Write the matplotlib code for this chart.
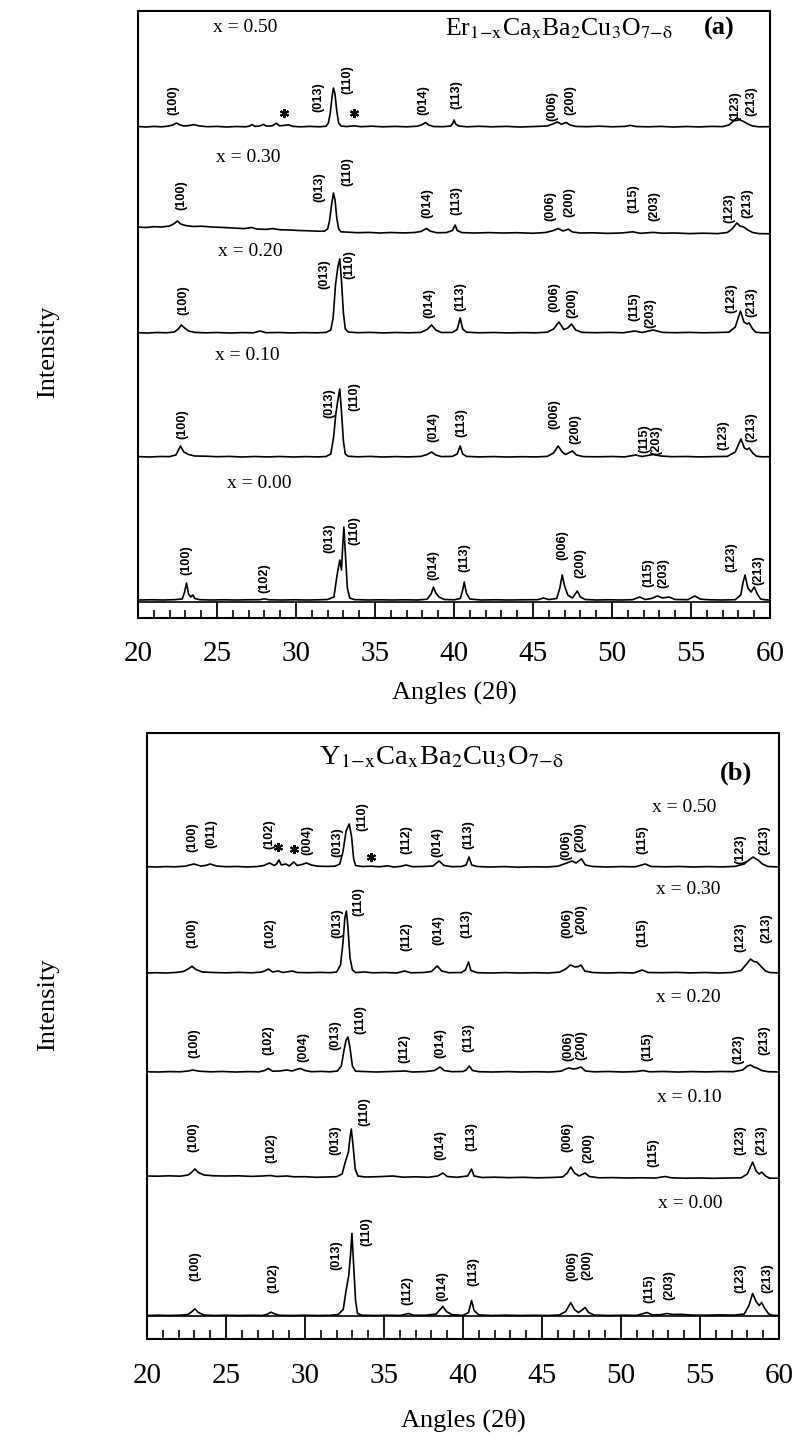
import matplotlib
matplotlib.use("Agg")
import matplotlib.pyplot as plt
from matplotlib.ticker import MultipleLocator

plt.rcParams["font.family"] = ["Liberation Serif", "DejaVu Serif"]
plt.rcParams["mathtext.fontset"] = "stix"

# ---- (a) Er1-xCaxBa2Cu3O7-d : (2theta, intensity above baseline) ----
A050 = [(20.0, 0.5), (20.5, 0.0), (21.0, 0.6), (21.5, 0.2), (21.9, 0.8), (22.2, 2.0), (22.43, 4.0), (22.65, 2.2),
        (22.9, 1.0), (23.2, 1.4), (23.54, 2.4), (23.9, 1.0), (24.4, 0.3), (25.0, 0.6), (25.6, 0.0), (26.2, 0.5),
        (26.8, 0.2), (27.05, 0.9), (27.21, 2.4), (27.4, 0.6), (27.7, 1.0), (27.94, 2.6), (28.15, 0.8), (28.5, 1.2),
        (28.76, 3.8), (28.95, 1.2), (29.25, 1.6), (29.53, 2.2), (29.8, 0.6), (30.3, 0.2), (30.9, 0.6), (31.5, 0.2),
        (31.9, 0.8), (32.05, 4.0), (32.17, 14.0), (32.28, 30.0), (32.37, 39.0), (32.47, 33.0), (32.58, 16.0),
        (32.7, 4.0), (32.85, 1.0), (33.2, 0.4), (33.67, 1.2), (34.1, 0.3), (34.8, 0.8), (35.5, 0.2), (36.3, 0.6),
        (37.0, 0.2), (37.7, 0.8), (38.0, 2.5), (38.2, 4.5), (38.4, 2.0), (38.7, 0.5), (39.3, 0.3), (39.8, 1.0),
        (39.93, 4.0), (40.0, 7.0), (40.1, 3.0), (40.3, 1.0), (40.8, 0.2), (41.6, 0.7), (42.4, 0.2), (43.3, 0.6),
        (44.2, 0.0), (45.1, 0.5), (45.9, 1.0), (46.25, 3.0), (46.54, 5.0), (46.8, 2.8), (47.1, 4.5), (47.35, 2.0),
        (47.7, 0.6), (48.4, 0.3), (49.2, 0.8), (50.0, 0.2), (50.8, 0.6), (51.17, 1.6), (51.5, 0.5), (52.3, 0.2),
        (53.1, 0.6), (53.9, 0.0), (54.7, 0.5), (55.5, 0.1), (56.3, 0.6), (57.0, 0.4), (57.4, 2.0), (57.65, 5.5),
        (57.9, 9.0), (58.1, 7.0), (58.33, 5.5), (58.6, 3.0), (58.9, 1.0), (59.3, 0.2), (60.0, 0.3)]
A030 = [(20.0, 6.0), (20.5, 5.5), (21.0, 6.3), (21.5, 6.0), (22.0, 7.0), (22.3, 9.5), (22.5, 12.0), (22.7, 9.0),
        (23.0, 7.5), (23.5, 6.5), (24.0, 6.8), (24.7, 6.0), (25.3, 5.6), (26.0, 5.0), (26.7, 4.4), (27.2, 5.5),
        (27.5, 4.0), (28.1, 3.6), (28.5, 4.4), (29.0, 3.2), (29.6, 3.0), (30.2, 2.5), (30.8, 2.2), (31.4, 1.8),
        (31.8, 1.8), (32.0, 4.0), (32.12, 12.0), (32.25, 28.0), (32.37, 40.0), (32.47, 33.0), (32.58, 15.0),
        (32.7, 4.0), (32.85, 1.2), (33.3, 0.8), (33.9, 0.3), (34.6, 0.6), (35.3, 0.0), (36.0, 0.5), (36.8, 0.1),
        (37.5, 0.5), (37.9, 1.5), (38.26, 4.5), (38.5, 1.8), (38.9, 0.3), (39.5, 0.4), (39.9, 2.5), (40.07, 8.0),
        (40.2, 2.5), (40.5, 0.4), (41.3, 0.0), (42.2, 0.4), (43.1, 0.0), (44.0, 0.3), (45.0, -0.3), (45.8, 0.5),
        (46.3, 2.5), (46.59, 4.5), (46.9, 2.0), (47.23, 3.8), (47.5, 1.0), (48.0, 0.0), (48.8, 0.2), (49.7, -0.4),
        (50.6, 0.0), (51.3, 1.2), (51.8, -0.3), (52.6, 0.6), (53.2, -0.2), (54.0, 0.0), (54.9, -0.6), (55.8, -0.2),
        (56.7, -0.6), (57.3, 0.5), (57.6, 4.0), (57.9, 10.0), (58.1, 7.0), (58.33, 6.0), (58.6, 3.0), (58.9, 0.5),
        (59.3, -0.6), (60.0, -0.8)]
A020 = [(20.0, 0.3), (20.6, 0.0), (21.2, 0.5), (21.8, 0.2), (22.3, 1.0), (22.55, 4.0), (22.74, 8.0), (22.95, 5.0),
        (23.2, 2.0), (23.6, 0.6), (24.3, 0.2), (25.0, 0.5), (25.8, 0.0), (26.6, 0.4), (27.3, 0.2), (27.73, 2.0),
        (28.1, 0.3), (28.9, 0.5), (29.7, 0.1), (30.5, 0.4), (31.3, 0.2), (31.9, 0.6), (32.2, 3.0), (32.35, 15.0),
        (32.5, 48.0), (32.65, 66.0), (32.77, 74.0), (32.88, 52.0), (33.0, 20.0), (33.12, 4.0), (33.3, 1.0),
        (33.9, 0.3), (34.7, 0.6), (35.5, 0.1), (36.3, 0.5), (37.1, 0.2), (37.9, 0.6), (38.3, 3.5), (38.58, 8.0),
        (38.85, 3.0), (39.2, 0.5), (39.9, 0.6), (40.2, 3.5), (40.39, 15.0), (40.55, 4.0), (40.8, 0.8), (41.6, 0.2),
        (42.5, 0.5), (43.4, 0.1), (44.3, 0.4), (45.2, 0.2), (45.9, 0.8), (46.3, 4.0), (46.64, 11.0), (46.95, 3.5),
        (47.2, 5.0), (47.44, 9.0), (47.7, 3.0), (48.1, 0.6), (49.0, 0.3), (49.9, 0.6), (50.7, 0.2), (51.44, 2.0),
        (51.9, 0.5), (52.6, 3.0), (53.2, 0.6), (54.0, 0.3), (54.9, 0.6), (55.8, 0.2), (56.7, 0.5), (57.4, 0.8),
        (57.8, 6.0), (58.13, 22.0), (58.35, 11.0), (58.55, 9.0), (58.68, 10.0), (58.9, 4.0), (59.1, 0.8),
        (59.5, 0.2), (60.0, 0.3)]
A010 = [(20.0, 0.4), (20.7, 0.0), (21.4, 0.5), (22.0, 0.4), (22.4, 2.0), (22.69, 11.0), (22.9, 5.0), (23.2, 2.5),
        (23.6, 1.0), (24.3, 0.8), (25.0, 0.3), (25.8, 0.6), (26.6, 0.0), (27.4, 0.5), (28.2, 0.1), (29.0, 0.5),
        (29.8, 0.0), (30.6, 0.4), (31.4, 0.1), (31.9, 0.5), (32.2, 3.0), (32.38, 20.0), (32.52, 43.0), (32.66, 58.0),
        (32.77, 68.0), (32.88, 45.0), (33.0, 16.0), (33.12, 3.0), (33.3, 0.8), (33.9, 0.2), (34.7, 0.6), (35.5, 0.0),
        (36.3, 0.4), (37.1, 0.1), (37.9, 0.6), (38.3, 2.5), (38.58, 5.0), (38.85, 2.0), (39.2, 0.4), (39.9, 0.6),
        (40.2, 3.0), (40.39, 11.0), (40.55, 3.0), (40.8, 0.6), (41.6, 0.1), (42.5, 0.4), (43.4, 0.0), (44.3, 0.3),
        (45.2, 0.1), (45.9, 0.6), (46.3, 4.0), (46.59, 11.0), (46.85, 5.0), (47.05, 2.5), (47.25, 4.0), (47.49, 6.0),
        (47.75, 2.0), (48.2, 0.4), (49.1, 0.2), (50.0, 0.5), (50.8, 0.1), (51.5, 2.0), (51.9, 0.5), (52.6, 2.5),
        (53.1, 1.0), (53.8, 0.3), (54.7, 0.5), (55.6, 0.1), (56.5, 0.4), (57.3, 0.6), (57.8, 5.0), (58.16, 18.0),
        (58.38, 9.0), (58.55, 7.5), (58.68, 9.0), (58.9, 4.0), (59.15, 0.8), (59.5, 0.2), (60.0, 0.3)]
A000 = [(20.0, 0.0), (20.8, 0.2), (21.6, 0.0), (22.3, 0.3), (22.8, 1.0), (22.95, 8.0), (23.07, 17.0), (23.2, 6.0),
        (23.35, 3.0), (23.47, 5.0), (23.6, 1.5), (23.9, 0.3), (24.6, 0.0), (25.4, 0.2), (26.2, 0.0), (27.0, 0.2),
        (27.7, 0.3), (27.99, 1.2), (28.3, 0.2), (29.1, 0.0), (29.9, 0.2), (30.7, 0.0), (31.5, 0.2), (32.0, 0.5),
        (32.4, 3.0), (32.6, 25.0), (32.77, 40.0), (32.88, 30.0), (32.96, 55.0), (33.03, 73.0), (33.13, 45.0),
        (33.25, 12.0), (33.4, 2.0), (33.7, 0.4), (34.5, 0.0), (35.3, 0.2), (36.1, 0.0), (36.9, 0.2), (37.7, 0.0),
        (38.3, 0.8), (38.55, 6.0), (38.7, 13.0), (38.85, 7.0), (39.05, 3.0), (39.4, 0.5), (40.0, 0.2), (40.4, 1.5),
        (40.55, 10.0), (40.65, 18.0), (40.78, 7.0), (41.0, 1.0), (41.7, 0.0), (42.6, 0.2), (43.5, 0.0), (44.4, 0.2),
        (45.3, 0.3), (45.68, 2.0), (46.0, 0.4), (46.5, 1.5), (46.7, 12.0), (46.85, 25.0), (47.0, 14.0), (47.2, 5.0),
        (47.5, 2.0), (47.8, 9.0), (48.0, 3.0), (48.3, 0.5), (49.0, 0.0), (49.8, 0.2), (50.6, 0.0), (51.3, 0.3),
        (51.75, 3.0), (52.1, 0.5), (52.5, 1.5), (52.87, 4.0), (53.2, 2.0), (53.6, 3.0), (54.0, 0.5), (54.8, 0.3),
        (55.24, 4.0), (55.6, 0.8), (56.2, 0.2), (57.0, 0.0), (57.8, 0.3), (58.15, 5.0), (58.3, 18.0), (58.42, 25.0),
        (58.6, 12.0), (58.8, 8.0), (59.0, 13.0), (59.2, 6.0), (59.4, 1.0), (59.7, 0.2), (60.0, 0.0)]

# ---- (b) Y1-xCaxBa2Cu3O7-d ----
B050 = [(20.0, 0.3), (20.6, 0.0), (21.2, 0.4), (21.8, 0.2), (22.4, 0.8), (22.97, 3.0), (23.4, 1.0), (23.7, 1.5),
        (24.0, 3.0), (24.4, 1.0), (25.0, 0.3), (25.7, 0.5), (26.4, 0.0), (27.0, 0.5), (27.4, 1.5), (27.76, 4.0),
        (28.05, 1.5), (28.2, 3.0), (28.35, 7.0), (28.5, 2.0), (28.79, 3.0), (29.0, 1.0), (29.3, 5.0), (29.5, 1.5),
        (29.8, 2.5), (30.09, 4.0), (30.4, 2.0), (30.8, 0.8), (31.4, 0.6), (31.9, 0.8), (32.2, 3.0), (32.4, 15.0),
        (32.6, 36.0), (32.8, 43.0), (32.95, 30.0), (33.08, 8.0), (33.2, 1.5), (33.6, 0.5), (34.2, 0.8), (34.7, 0.2),
        (35.25, 1.2), (35.6, 0.0), (36.0, 0.5), (36.4, 2.0), (36.8, 0.3), (37.5, 0.5), (38.1, 1.0), (38.48, 6.0),
        (38.8, 1.5), (39.3, 0.3), (39.9, 0.5), (40.2, 2.0), (40.38, 10.0), (40.55, 2.0), (40.9, 0.5), (41.7, 0.0),
        (42.6, 0.4), (43.5, -0.2), (44.4, 0.2), (45.3, 0.0), (46.0, 0.8), (46.4, 3.0), (46.9, 6.0), (47.15, 4.0),
        (47.5, 8.0), (47.75, 2.0), (48.2, 0.5), (49.1, 0.0), (50.0, 0.4), (50.9, 0.2), (51.54, 3.0), (51.9, 0.5),
        (52.8, 0.2), (53.7, 0.5), (54.6, 0.0), (55.5, 0.4), (56.4, 0.1), (57.2, 0.6), (57.8, 3.0), (58.1, 7.0),
        (58.36, 10.0), (58.55, 8.0), (58.67, 7.0), (58.95, 3.0), (59.3, 0.5), (60.0, 0.0)]
B030 = [(20.0, 0.0), (20.6, 0.3), (21.2, 0.0), (21.8, 0.5), (22.3, 1.5), (22.6, 4.0), (22.85, 6.7), (23.1, 3.5),
        (23.5, 1.0), (24.2, 0.5), (25.0, 0.2), (25.8, 0.6), (26.6, 0.2), (27.2, 0.8), (27.45, 2.0), (27.68, 4.0),
        (27.95, 1.0), (28.3, 2.0), (28.6, 0.5), (29.2, 2.0), (29.5, 0.5), (30.2, 0.3), (31.0, 0.6), (31.6, 0.3),
        (32.0, 1.0), (32.25, 8.0), (32.4, 30.0), (32.52, 55.0), (32.62, 62.0), (32.72, 45.0), (32.85, 15.0),
        (33.0, 3.0), (33.2, 0.5), (33.76, 1.0), (34.3, 0.2), (35.1, 0.5), (35.8, 0.0), (36.3, 2.0), (36.7, 0.2),
        (37.5, 0.5), (38.0, 1.5), (38.37, 7.0), (38.65, 2.0), (39.1, 0.3), (39.9, 0.5), (40.15, 3.0), (40.35, 11.0),
        (40.5, 2.5), (40.9, 0.3), (41.8, 0.0), (42.7, 0.4), (43.6, 0.0), (44.5, 0.3), (45.4, 0.0), (46.1, 0.8),
        (46.5, 4.0), (46.8, 8.0), (47.1, 6.0), (47.3, 6.5), (47.47, 8.0), (47.7, 2.0), (48.2, 0.5), (49.1, 0.0),
        (50.0, 0.4), (50.8, 0.0), (51.35, 3.0), (51.7, 0.5), (52.6, 0.3), (53.5, 0.6), (54.4, 0.1), (55.3, 0.5),
        (56.2, 0.0), (57.0, 0.5), (57.6, 2.5), (57.95, 9.0), (58.2, 14.0), (58.4, 11.5), (58.6, 11.0), (58.9, 6.0),
        (59.15, 2.0), (59.4, 0.5), (60.0, 0.0)]
B020 = [(20.0, 0.2), (20.7, 0.0), (21.4, 0.4), (22.1, 0.2), (22.6, 1.0), (22.9, 2.0), (23.3, 0.8), (24.0, 0.2),
        (24.8, 0.5), (25.6, 0.0), (26.4, 0.4), (27.1, 0.2), (27.45, 1.5), (27.68, 3.5), (27.95, 0.8), (28.4, 1.0),
        (28.84, 2.0), (29.2, 1.0), (29.45, 2.5), (29.7, 3.5), (30.0, 1.5), (30.4, 0.3), (31.0, 0.6), (31.6, 0.2),
        (32.05, 1.0), (32.3, 6.0), (32.45, 20.0), (32.6, 32.0), (32.72, 35.0), (32.85, 24.0), (33.0, 6.0),
        (33.2, 0.8), (33.7, 0.5), (34.5, 0.0), (35.3, 0.4), (36.35, 1.0), (36.8, 0.0), (37.6, 0.4), (38.2, 1.5),
        (38.55, 5.0), (38.8, 1.5), (39.3, 0.3), (40.0, 0.5), (40.2, 2.0), (40.4, 6.0), (40.6, 1.5), (41.0, 0.3),
        (41.9, 0.0), (42.8, 0.4), (43.7, 0.0), (44.6, 0.3), (45.5, 0.0), (46.2, 0.8), (46.5, 3.0), (46.7, 4.0),
        (47.0, 3.0), (47.2, 3.5), (47.47, 5.0), (47.75, 1.0), (48.3, 0.2), (49.2, 0.5), (50.1, 0.0), (51.0, 0.5),
        (51.4, 1.5), (51.8, 0.2), (52.7, 0.5), (53.6, 0.0), (54.5, 0.4), (55.4, 0.1), (56.3, 0.5), (57.1, 0.3),
        (57.7, 2.0), (58.0, 6.0), (58.2, 7.0), (58.4, 5.0), (58.6, 4.0), (58.9, 1.5), (59.3, 0.3), (60.0, 0.0)]
B010 = [(20.0, 1.0), (20.7, 0.8), (21.4, 1.2), (22.1, 0.8), (22.6, 2.0), (22.85, 5.0), (23.03, 8.0), (23.25, 4.5),
        (23.6, 2.0), (24.2, 1.2), (25.0, 1.0), (25.8, 1.2), (26.6, 0.6), (27.3, 1.0), (27.8, 1.5), (28.2, 0.5),
        (28.85, 1.0), (29.3, 0.2), (30.0, 0.3), (30.7, -0.3), (31.4, 0.0), (32.0, 0.3), (32.35, 3.0), (32.55, 15.0),
        (32.75, 25.0), (32.85, 40.0), (32.93, 48.0), (33.05, 30.0), (33.18, 8.0), (33.35, 1.0), (33.8, 0.0),
        (34.6, 0.3), (35.57, 1.0), (36.2, -0.2), (37.0, 0.2), (37.8, -0.3), (38.4, 1.0), (38.73, 4.0), (39.0, 0.5),
        (39.6, -0.3), (40.3, 1.0), (40.54, 8.0), (40.7, 1.0), (41.2, -0.5), (42.0, -0.2), (42.9, -0.6), (43.8, -0.3),
        (44.7, -0.8), (45.6, -0.5), (46.3, 0.0), (46.6, 4.0), (46.82, 10.0), (47.05, 4.0), (47.35, 1.0), (47.73, 4.0),
        (48.0, 0.5), (48.6, -0.8), (49.5, -0.6), (50.4, -1.0), (51.3, -0.8), (52.2, -1.0), (52.78, 0.5), (53.2, -0.8),
        (54.1, -1.2), (55.0, -1.0), (55.9, -1.3), (56.8, -1.0), (57.6, -0.8), (58.0, 3.0), (58.33, 15.0), (58.55, 6.0),
        (58.75, 3.0), (58.9, 5.0), (59.15, 1.0), (59.4, -1.2), (60.0, -1.2)]
B000 = [(20.0, 0.0), (20.7, 0.3), (21.4, 0.0), (22.1, 0.3), (22.6, 1.0), (22.85, 4.0), (23.03, 6.7), (23.25, 3.0),
        (23.6, 0.5), (24.3, 0.0), (25.0, 0.3), (25.8, 0.0), (26.6, 0.2), (27.3, 0.0), (27.6, 1.2), (27.85, 3.3),
        (28.1, 1.5), (28.4, 0.2), (29.2, 0.0), (30.0, 0.3), (30.8, 0.0), (31.6, 0.2), (32.1, 1.0), (32.42, 6.0),
        (32.6, 25.0), (32.77, 40.0), (32.88, 60.0), (32.97, 82.0), (33.08, 50.0), (33.2, 15.0), (33.32, 2.0),
        (33.6, 0.3), (34.4, 0.0), (35.2, 0.3), (36.0, 0.0), (36.55, 2.0), (36.9, 0.2), (37.7, 0.3), (38.3, 1.5),
        (38.55, 6.0), (38.73, 9.0), (38.95, 4.0), (39.3, 0.8), (40.0, 0.2), (40.35, 3.0), (40.54, 15.0), (40.7, 5.0),
        (41.0, 0.6), (41.8, 0.0), (42.7, 0.3), (43.6, 0.0), (44.5, 0.2), (45.4, 0.0), (46.1, 0.5), (46.5, 4.0),
        (46.82, 13.0), (47.05, 6.0), (47.3, 3.0), (47.5, 5.0), (47.73, 8.0), (47.95, 3.0), (48.3, 0.5), (49.2, 0.0),
        (50.1, 0.3), (51.0, 0.1), (51.65, 3.0), (52.0, 0.5), (52.5, 0.8), (52.9, 2.0), (53.3, 1.0), (53.8, 1.2),
        (54.5, 0.4), (55.4, 0.3), (56.3, 0.6), (57.2, 0.4), (57.8, 1.5), (58.1, 10.0), (58.33, 22.0), (58.55, 14.0),
        (58.75, 10.0), (58.9, 13.0), (59.1, 7.0), (59.35, 1.5), (59.6, 0.2), (60.0, 0.0)]

COMP = ["x = 0.50", "x = 0.30", "x = 0.20", "x = 0.10", "x = 0.00"]

# reflection labels: (hkl, 2theta, height above the trace baseline)
HKL_A050 = [("(100)", 22.25, 27), ("(013)", 31.42, 30), ("(110)", 33.23, 47), ("(014)", 38.07, 27),
            ("(113)", 40.13, 32), ("(006)", 46.2, 21), ("(200)", 47.37, 27), ("(123)", 57.82, 21),
            ("(213)", 58.85, 26)]
HKL_A030 = [("(100)", 22.73, 38), ("(013)", 31.49, 46), ("(110)", 33.23, 61), ("(014)", 38.32, 30),
            ("(113)", 40.13, 32), ("(006)", 46.07, 27), ("(200)", 47.31, 31), ("(115)", 51.36, 34),
            ("(203)", 52.66, 27), ("(123)", 57.44, 25), ("(213)", 58.58, 30)]
HKL_A020 = [("(100)", 22.88, 33), ("(013)", 31.8, 59), ("(110)", 33.36, 68), ("(014)", 38.45, 30),
            ("(113)", 40.39, 36), ("(006)", 46.33, 36), ("(200)", 47.49, 30), ("(115)", 51.44, 26),
            ("(203)", 52.4, 20), ("(123)", 57.56, 35), ("(213)", 58.85, 31)]
HKL_A010 = [("(100)", 22.82, 33), ("(013)", 32.12, 54), ("(110)", 33.72, 60), ("(014)", 38.7, 30),
            ("(113)", 40.44, 34), ("(006)", 46.38, 43), ("(200)", 47.67, 28), ("(115)", 52.06, 18),
            ("(203)", 52.78, 17), ("(123)", 57.04, 22), ("(213)", 58.85, 30)]
HKL_A000 = [("(100)", 23.07, 40), ("(102)", 27.97, 22), ("(013)", 32.12, 62), ("(110)", 33.67, 69),
            ("(014)", 38.7, 35), ("(113)", 40.65, 42), ("(006)", 46.85, 55), ("(200)", 48.0, 37),
            ("(115)", 52.33, 27), ("(203)", 53.22, 27), ("(123)", 57.58, 43), ("(213)", 59.29, 30)]
HKL_B050 = [("(100)", 22.9, 30), ("(011)", 24.06, 33), ("(102)", 27.76, 33), ("(004)", 30.14, 27),
            ("(013)", 32.07, 25), ("(110)", 33.63, 50), ("(112)", 36.4, 27), ("(014)", 38.36, 25),
            ("(113)", 40.35, 32), ("(006)", 46.56, 22), ("(200)", 47.42, 30), ("(115)", 51.35, 27),
            ("(123)", 57.56, 18), ("(213)", 59.06, 27)]
HKL_B030 = [("(100)", 22.88, 40), ("(102)", 27.81, 40), ("(013)", 32.07, 50), ("(110)", 33.37, 71),
            ("(112)", 36.4, 36), ("(014)", 38.41, 43), ("(113)", 40.23, 49), ("(006)", 46.6, 50),
            ("(200)", 47.52, 54), ("(115)", 51.35, 40), ("(123)", 57.55, 36), ("(213)", 59.2, 45)]
HKL_B020 = [("(100)", 23.03, 29), ("(102)", 27.68, 32), ("(004)", 29.88, 25), ("(013)", 31.95, 37),
            ("(110)", 33.5, 52), ("(112)", 36.3, 23), ("(014)", 38.55, 29), ("(113)", 40.35, 34),
            ("(006)", 46.69, 26), ("(200)", 47.47, 27), ("(115)", 51.65, 25), ("(123)", 57.42, 23),
            ("(213)", 59.06, 32)]
HKL_B010 = [("(100)", 22.92, 40), ("(102)", 27.88, 29), ("(013)", 31.91, 37), ("(110)", 33.73, 65),
            ("(014)", 38.57, 32), ("(113)", 40.56, 40), ("(006)", 46.58, 40), ("(200)", 47.96, 29),
            ("(115)", 52.02, 24), ("(123)", 57.58, 37), ("(213)", 58.87, 37)]
HKL_B000 = [("(100)", 23.05, 49), ("(102)", 27.97, 37), ("(013)", 31.98, 60), ("(110)", 33.91, 84),
            ("(112)", 36.5, 25), ("(014)", 38.71, 29), ("(113)", 40.64, 44), ("(006)", 46.92, 49),
            ("(200)", 47.88, 50), ("(115)", 51.82, 27), ("(203)", 53.07, 30), ("(123)", 57.53, 37),
            ("(213)", 59.26, 37)]

# impurity peaks marked with *: (2theta, height above baseline)
STAR_A050 = [(29.21, 14), (33.67, 14)]
STAR_B050 = [(28.27, 20), (29.31, 18), (34.15, 10)]

PANELS = [
    dict(traces=[A050, A030, A020, A010, A000], hkls=[HKL_A050, HKL_A030, HKL_A020, HKL_A010, HKL_A000],
         stars=STAR_A050, offsets=[491, 385, 285, 161, 18],
         comp_pos=[(26.76, 591), (26.95, 461), (27.08, 366), (26.9, 263), (27.66, 135)],
         rect=(138, 11, 632, 607), strip=16.5, major=11.8, minor=6.0, pad=16.5,
         title=r"Er$_{\rm 1\!-\!x}$Ca$_{\rm x}$Ba$_2$Cu$_3$O$_{\rm 7\!-\!\delta}$", title_xy=(39.4, 583),
         title_size=18.5, tag="(a)", tag_xy=(56.8, 583), xlabel_y=692, ylabel_y=352),
    dict(traces=[B050, B030, B020, B010, B000], hkls=[HKL_B050, HKL_B030, HKL_B020, HKL_B010, HKL_B000],
         stars=STAR_B050, offsets=[472, 366, 267, 162, 23.5],
         comp_pos=[(54.0, 532), (54.25, 449), (54.25, 342), (54.3, 241), (54.4, 136)],
         rect=(147, 733, 632, 606), strip=22.7, major=16.3, minor=6.7, pad=17,
         title=r"Y$_{\rm 1\!-\!x}$Ca$_{\rm x}$Ba$_2$Cu$_3$O$_{\rm 7\!-\!\delta}$", title_xy=(30.9, 575),
         title_size=20.5, tag="(b)", tag_xy=(57.3, 559), xlabel_y=1420, ylabel_y=1005),
]

W, H = 796, 1448
fig = plt.figure(figsize=(W / 100, H / 100), dpi=100)
hkl_font = ["Liberation Sans Narrow", "Liberation Sans"]

for p in PANELS:
    left, top, width, height = p["rect"]
    ax = fig.add_axes([left / W, 1 - (top + height) / H, width / W, height / H])
    ax.set_xlim(20, 60)
    ax.set_ylim(0, height)

    for trace, off, hkl in zip(p["traces"], p["offsets"], p["hkls"]):
        tt = [pt[0] for pt in trace]
        inten = [pt[1] + off for pt in trace]
        ax.plot(tt, inten, color="black", lw=1.2)
        for lab, x, h in hkl:
            ax.text(x, off + h, lab, rotation=90, ha="center", va="center",
                    fontsize=9.2, family=hkl_font, fontweight="bold")
    for x, h in p["stars"]:
        ax.plot(x, p["offsets"][0] + h, marker=(6, 2, 0), color="black", ms=6.5, mew=1.5)

    for txt, (x, y) in zip(COMP, p["comp_pos"]):
        ax.text(x, y, txt, ha="center", va="center", fontsize=14)
    ax.text(p["title_xy"][0], p["title_xy"][1], p["title"], ha="left", va="baseline",
            fontsize=p["title_size"])
    ax.text(p["tag_xy"][0], p["tag_xy"][1], p["tag"], ha="center", va="baseline",
            fontsize=19, fontweight="bold")

    ax.axhline(p["strip"], color="black", lw=1.2)
    ax.xaxis.set_major_locator(MultipleLocator(5))
    ax.xaxis.set_minor_locator(MultipleLocator(1))
    ax.tick_params(axis="x", which="major", direction="in", length=p["major"], width=1.3,
                   labelsize=21, pad=p["pad"])
    ax.tick_params(axis="x", which="minor", direction="in", length=p["minor"], width=1.2)
    ax.set_yticks([])
    for s in ax.spines.values():
        s.set_linewidth(1.5)

    fig.text((left + width / 2) / W, 1 - p["xlabel_y"] / H, "Angles (2θ)",
             ha="center", va="center", fontsize=19)
    fig.text(48 / W, 1 - p["ylabel_y"] / H, "Intensity", rotation=90,
             ha="center", va="center", fontsize=19)

fig.savefig("out.png", dpi=100)
